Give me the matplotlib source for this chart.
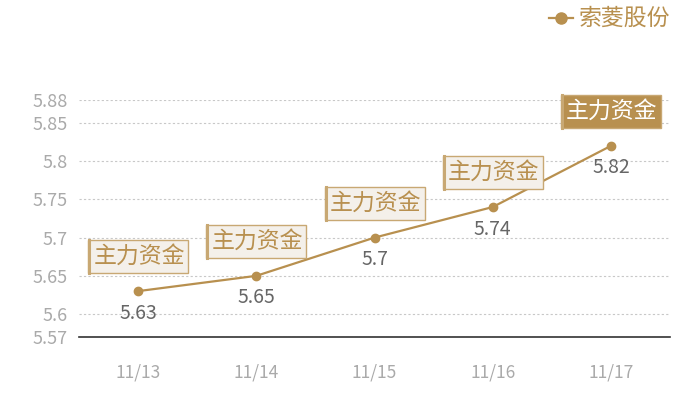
import matplotlib
matplotlib.use("Agg")
import matplotlib.pyplot as plt
from matplotlib.patches import Rectangle
from matplotlib.lines import Line2D
from matplotlib.transforms import IdentityTransform

plt.rcParams['font.family'] = ['Noto Sans CJK SC', 'DejaVu Sans']

dates = ["11/13", "11/14", "11/15", "11/16", "11/17"]
values = [5.63, 5.65, 5.70, 5.74, 5.82]
yticks = [5.57, 5.6, 5.65, 5.7, 5.75, 5.8, 5.85, 5.88]
series_name = "索菱股份"
tag_text = "主力资金"

GOLD = "#b8904f"
BORDER = "#c8a873"
LIGHT = "#f4f0ea"

fig = plt.figure(figsize=(7, 4), dpi=100)
ax = fig.add_axes([79/700, 1-337/400, (670-79)/700, (337-100)/400])

x = list(range(len(dates)))
ax.plot(x, values, color=GOLD, lw=1.6, marker="o", ms=6, zorder=3)
ax.set_xlim(-0.5, len(dates)-0.5)
ax.set_ylim(5.57, 5.88)
ax.set_yticks(yticks)
ax.set_yticklabels([f"{v:g}" for v in yticks])
ax.set_xticks(x)
ax.set_xticklabels(dates)
ax.tick_params(axis='y', length=0, pad=8, labelsize=13, labelcolor="#aaaaaa")
ax.tick_params(axis='x', length=0, pad=19, labelsize=12.5, labelcolor="#aaaaaa")
for s in ["top", "right", "left"]:
    ax.spines[s].set_visible(False)
ax.spines["bottom"].set_color("#333333")
ax.spines["bottom"].set_linewidth(1.2)
ax.grid(axis='y', color="#c8c8c8", ls=(0, (2, 2)), lw=0.8)
ax.set_axisbelow(True)

# value labels
for xi, v in zip(x, values):
    ax.annotate(f"{v:g}", (xi, v), xytext=(0, -22), textcoords="offset pixels",
                ha="center", va="center", fontsize=14, color="#666666", zorder=4)

# tag boxes
W, H, GAP = 100, 33, 18
for i, (xi, v) in enumerate(zip(x, values)):
    px, py = ax.transData.transform((xi, v))
    last = i == len(x) - 1
    face = GOLD if last else LIGHT
    edge = BORDER
    rect = Rectangle((px - W/2, py + GAP), W, H, transform=IdentityTransform(),
                     facecolor=face, edgecolor=edge, lw=1.0, zorder=5)
    fig.patches.append(rect)
    fig.lines.append(Line2D([px - W/2 + 1, px - W/2 + 1], [py + GAP, py + GAP + H],
                            transform=IdentityTransform(), color=edge, lw=2.2, zorder=6))
    fig.text(px + 1, py + GAP + H/2, tag_text, transform=IdentityTransform(),
             ha="center", va="center", fontsize=16.5,
             color="white" if last else GOLD, zorder=7)

# legend
lx0, lx1, ly = 549, 573, 400 - 18
fig.lines.append(Line2D([lx0, lx1], [ly, ly], transform=IdentityTransform(),
                        color=GOLD, lw=1.6, marker=None))
fig.lines.append(Line2D([(lx0+lx1)/2], [ly], transform=IdentityTransform(),
                        color=GOLD, marker="o", ms=8, lw=0))
fig.text(579, ly, series_name, transform=IdentityTransform(), ha="left", va="center",
         fontsize=16.5, color=GOLD)

fig.savefig("out.png", dpi=100)
